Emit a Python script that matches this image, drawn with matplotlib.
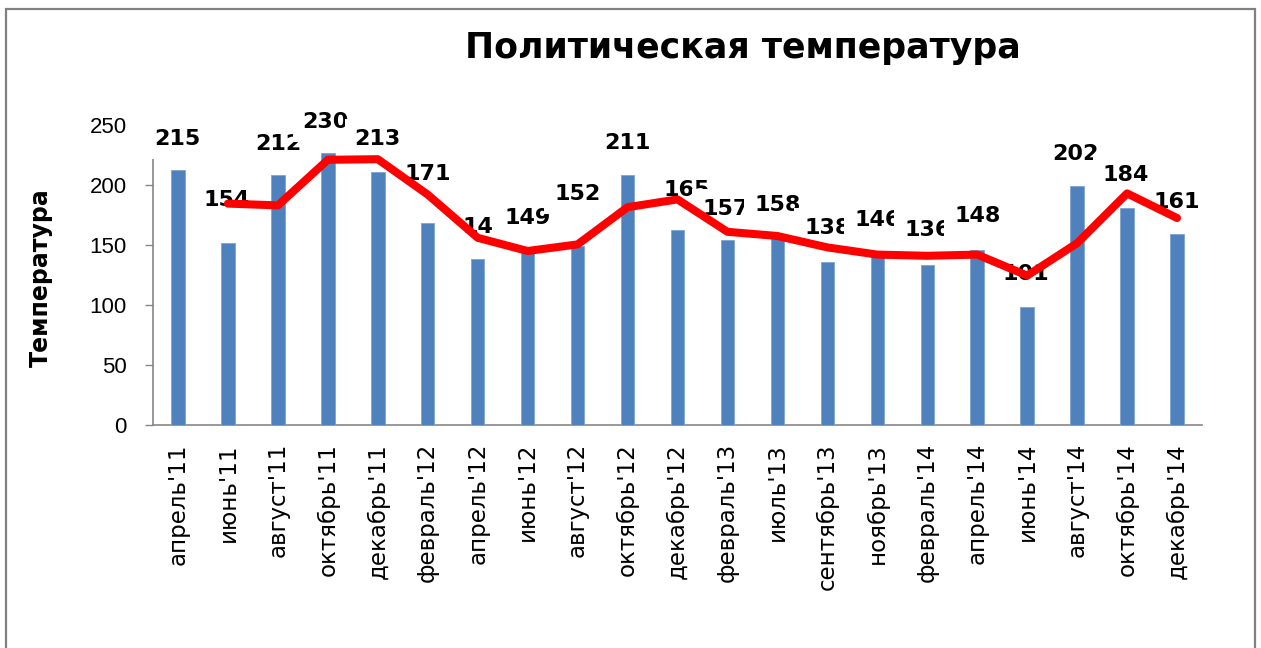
import numpy as np
import matplotlib
matplotlib.use("Agg")
import matplotlib.pyplot as plt
from matplotlib.patches import Rectangle

categories = ["апрель'11", "июнь'11", "август'11", "октябрь'11", "декабрь'11",
              "февраль'12", "апрель'12", "июнь'12", "август'12", "октябрь'12",
              "декабрь'12", "февраль'13", "июль'13", "сентябрь'13", "ноябрь'13",
              "февраль'14", "апрель'14", "июнь'14", "август'14", "октябрь'14",
              "декабрь'14"]
bar_values = [212.8, 151.4, 208.6, 226.9, 210.8, 168.1, 138.3, 146.5, 149.5, 208.1,
              162.5, 154.2, 155.5, 135.6, 143.5, 133.6, 145.5, 98.1, 199.2, 181.1, 158.9]
label_values = [215, 154, 212, 230, 213, 171, 141, 149, 152, 211,
                165, 157, 158, 138, 146, 136, 148, 101, 202, 184, 161]
trend_values = [np.nan, 184.5, 183, 221, 221.5, 192, 156, 145, 150.5, 181.5,
                188, 161, 157.5, 148, 142, 141, 142, 124.5, 151.5, 193, 172.5]
y_ticks = [0, 50, 100, 150, 200, 250]

# layout: offsets (px) of each data label from its anchor point
label_dy_px = [28, 40, 27, 27, 30, 46, 29, 28, 49, 29, 37, 28, 30, 31, 30, 32, 31, 30, 29, 29, 30]
label_dx_px = [-1, -1, 0, -2, 0, 0, 8, 0, 0, 0, 9, -2, 0, 0, 0, 0, 0, -1, -2, -1, 0]

W, H = 1261, 648
fig = plt.figure(figsize=(W / 100, H / 100), dpi=100)
fig.patch.set_facecolor("white")

# outer chart frame
fig.patches.append(Rectangle((5.5 / W, -0.05), (1255 - 5.5) / W, 1.05 - 9 / H,
                             transform=fig.transFigure, fill=False,
                             edgecolor="#808080", linewidth=1.6, zorder=0))

ax = fig.add_axes([153 / W, 1 - 425 / H, (1202 - 153) / W, 300 / H])
x = np.arange(len(categories))

ax.bar(x, bar_values, width=0.27, color="#4F81BD", edgecolor="#7FA3D3",
       linewidth=0.6, zorder=2)

for i, (v, dx, dy) in enumerate(zip(label_values, label_dx_px, label_dy_px)):
    ax.annotate(str(v), xy=(i, v), xytext=(dx * 0.72, dy * 0.72),
                textcoords="offset points",
                ha="center", va="center", fontsize=16, fontweight="bold",
                family="DejaVu Sans", color="black", zorder=4,
                bbox=dict(boxstyle="square,pad=0.45", facecolor="white",
                          edgecolor="none"),
                annotation_clip=False)

ax.plot(x, trend_values, color="#FF0000", linewidth=5.8, solid_joinstyle="round",
        solid_capstyle="round", zorder=5)

ax.set_xlim(-0.5, len(categories) - 0.5)
ax.set_ylim(0, 250)
ax.set_yticks(y_ticks)
ax.set_yticklabels([str(t) for t in y_ticks], family="Liberation Sans", fontsize=16)
ax.set_xticks(x)
ax.set_xticklabels(categories, rotation=90, family="DejaVu Sans", fontsize=16.5)

for s in ["top", "right"]:
    ax.spines[s].set_visible(False)
for s in ["left", "bottom"]:
    ax.spines[s].set_color("#868686")
    ax.spines[s].set_linewidth(1.2)
    ax.spines[s].set_zorder(1.5)
ax.tick_params(axis="y", direction="out", length=5.8, width=1.0, color="#868686", pad=13)
ax.tick_params(axis="x", length=0, pad=13)

fig.text(743 / W, 1 - 58.3 / H, "Политическая температура", ha="center",
         va="baseline", fontsize=25, fontweight="bold", family="DejaVu Sans")
fig.text(41 / W, 1 - 278 / H, "Температура", rotation=90, ha="center", va="center",
         fontsize=17, fontweight="bold", family="DejaVu Sans")

fig.savefig("out.png", dpi=100)
